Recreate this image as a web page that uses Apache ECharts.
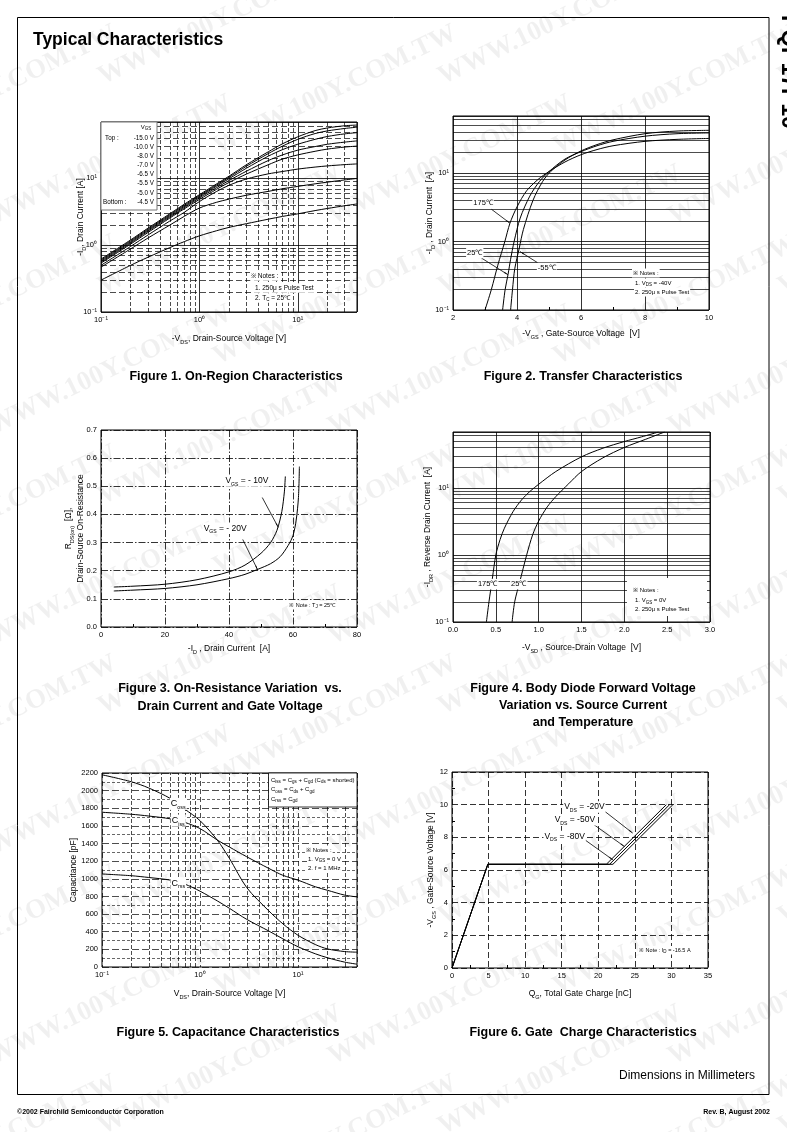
<!DOCTYPE html>
<html><head><meta charset="utf-8">
<script src="https://cdn.jsdelivr.net/npm/echarts@6/dist/echarts.min.js"></script>
<style>html,body{margin:0;padding:0;background:#fff}#c{width:787px;height:1132px}</style>
</head><body><div id="c"></div>
<script>
// ---------- tick labels ----------
const logTickLabels = ['10⁻¹', '10⁰', '10¹'];

// ---------- Figure 1 : On-Region Characteristics ----------
const fig1Vds = [0.1,0.2,0.3,0.5,0.7,1,1.5,2,3,5,7,10,15,20,30,40];
const fig1Legend = ['-15.0 V','-10.0 V','-8.0 V','-7.0 V','-6.5 V','-5.5 V','-5.0 V','-4.5 V'];
const fig1IdVgs150 = [0.62,1.2,1.8,2.95,4.1,5.7,8.3,10.8,16,25,33,42,52,57,61.5,63];
const fig1IdVgs100 = [0.6,1.16,1.74,2.85,3.95,5.5,8.0,10.4,15.2,23.5,30.5,38.5,47,51.5,56,58.5];
const fig1IdVgs80  = [0.58,1.12,1.68,2.75,3.8,5.3,7.7,9.9,14.2,21.5,27,32.5,38.5,42.5,46.5,48.5];
const fig1IdVgs70  = [0.56,1.08,1.62,2.65,3.65,5.1,7.3,9.3,12.8,18.5,22.5,26.5,30,32.5,35,36.5];
const fig1IdVgs65  = [0.54,1.04,1.55,2.55,3.5,4.85,6.9,8.7,11.6,16,19.5,22.5,25.5,27.5,29.5,30.5];
const fig1IdVgs55  = [0.5,0.96,1.42,2.3,3.1,4.5,6.4,7.9,9.8,11.7,12.7,13.8,14.8,15.4,16.1,16.5];
const fig1IdVgs50  = [0.47,0.88,1.28,2.0,2.7,3.6,4.4,4.9,5.6,6.4,7.0,7.6,8.3,8.8,9.5,10];
const fig1IdVgs45  = [0.3,0.5,0.66,0.92,1.13,1.38,1.65,1.85,2.1,2.45,2.7,2.95,3.3,3.55,3.9,4.15];

// ---------- Figure 2 : Transfer Characteristics ----------
const fig2T175 = [[3.0,0.1],[3.2,0.2],[3.4,0.45],[3.62,1.0],[3.78,1.85],[4.0,3.2],[4.3,5.5],[4.65,8],[5.0,10.5],[5.5,14.5],[6.0,18.5],[6.5,22],[7,25],[8,29],[9,31],[10,32]];
const fig2T25  = [[3.55,0.1],[3.63,0.2],[3.72,0.33],[3.8,0.55],[3.91,1.0],[4.1,2.2],[4.4,4.6],[4.7,7.5],[5.0,10.5],[5.5,16],[6,20.5],[6.5,25],[7,29],[8,34.5],[9,37.5],[10,38.5]];
const fig2Tm55 = [[3.8,0.1],[3.86,0.2],[3.93,0.4],[4.07,0.8],[4.2,1.5],[4.5,4.0],[4.8,7.5],[5.05,10.5],[5.5,15.5],[6,21],[6.5,26],[7,30.5],[8,37.5],[9,41],[10,42]];

// ---------- Figure 3 : On-Resistance ----------
const fig3Vgs10 = [[4,0.142],[10,0.145],[20,0.152],[30,0.168],[40,0.196],[45,0.22],[50,0.262],[53,0.3],[55,0.344],[56.5,0.41],[57.3,0.48],[57.6,0.535]];
const fig3Vgs20 = [[4,0.128],[10,0.131],[20,0.137],[30,0.15],[40,0.172],[45,0.187],[49,0.205],[53,0.225],[56,0.25],[58.5,0.29],[60,0.325],[61,0.38],[61.7,0.46],[62,0.57]];

// ---------- Figure 4 : Body Diode ----------
const fig4T175 = [[0.39,0.1],[0.42,0.2],[0.46,0.45],[0.5,1.0],[0.55,1.7],[0.6,2.5],[0.7,4.4],[0.8,6.6],[0.9,8.9],[1.0,11.3],[1.2,17.5],[1.5,29],[1.75,39],[2.0,49],[2.2,57.5],[2.4,68]];
const fig4T25  = [[0.69,0.1],[0.72,0.2],[0.78,0.4],[0.86,1.0],[0.93,2.0],[1.0,3.2],[1.1,5.2],[1.2,7.4],[1.35,11.5],[1.5,17.5],[1.75,28],[2.0,40],[2.25,53],[2.47,68]];

// ---------- Figure 5 : Capacitance ----------
const fig5Vds  = [0.1,0.2,0.3,0.5,0.7,1,1.5,2,3,5,7,10,15,20,30,40];
const fig5Ciss = [1755,1732,1712,1680,1640,1570,1440,1360,1250,1120,1040,985,910,870,815,795];
const fig5Coss = [2180,2100,2030,1910,1790,1660,1440,1230,900,640,490,360,255,205,175,168];
const fig5Crss = [1055,1035,1015,985,940,860,750,665,540,410,320,230,150,105,55,32];

// ---------- Figure 6 : Gate Charge ----------
const fig6Vds20 = [[0,0],[4.9,6.35],[21.1,6.35],[29.3,10]];
const fig6Vds50 = [[0,0],[4.9,6.35],[21.55,6.35],[29.75,10]];
const fig6Vds80 = [[0,0],[4.9,6.35],[22.0,6.35],[30.2,10]];

// ---------- grid-line tick positions ----------
const logMinorY = [0.2,0.3,0.4,0.5,0.6,0.7,0.8,0.9,2,3,4,5,6,7,8,9,20,30,40,50,60];
const logMinorX = [0.2,0.3,0.4,0.5,0.6,0.7,0.8,0.9,2,3,4,5,6,7,8,9,20,30];
const capOddLines = [100,300,500,700,900,1100,1300,1500,1700,1900,2100];

// =====================================================================
const FONT = '"Liberation Sans", Arial, Helvetica, sans-serif';
const BLK = '#000';
const subRich = (fs) => ({ s: { fontSize: fs, lineHeight: fs + 1, verticalAlign: 'bottom', fontFamily: FONT, color: BLK } });

function logFmt(v) {
  const e = Math.log10(v), r = Math.round(e);
  if (Math.abs(e - r) > 1e-6) return '';
  return logTickLabels[r + 1] || '';
}
const lbl = (extra) => Object.assign({ color: BLK, fontSize: 7.5, fontFamily: FONT, margin: 4 }, extra || {});
const nameStyle = { color: BLK, fontSize: 8.5, fontFamily: FONT, lineHeight: 12, rich: subRich(5.5) };

const grids = [
  { left: 101, top: 122, width: 256, height: 190 },
  { left: 453, top: 116, width: 256, height: 194 },
  { left: 101, top: 430, width: 256, height: 197 },
  { left: 453, top: 432, width: 257, height: 190 },
  { left: 102, top: 773, width: 255, height: 194 },
  { left: 452, top: 772, width: 256, height: 196 }
].map(g => Object.assign(g, { show: true, borderColor: BLK, borderWidth: 1, backgroundColor: 'transparent' }));

function ax(gi, o) {
  return Object.assign({
    gridIndex: gi, axisLine: { show: false }, axisTick: { show: false },
    nameLocation: 'middle', nameMoveOverlap: false, nameTextStyle: nameStyle
  }, o);
}
const solidSplit = (w) => ({ show: true, lineStyle: { color: BLK, width: w || 0.7, type: 'solid' } });
const dashSplit = (t, w) => ({ show: true, lineStyle: { color: BLK, width: w || 0.7, type: t } });

const xAxis = [
  ax(0, { type: 'log', logBase: 10, min: 0.1, max: 40, splitLine: solidSplit(0.8),
          axisLabel: lbl({ formatter: logFmt, showMaxLabel: false }),
          name: '-V{s|DS}, Drain-Source Voltage [V]', nameGap: 21 }),
  ax(1, { type: 'value', min: 2, max: 10, interval: 2, splitLine: solidSplit(0.8),
          axisTick: { show: false, inside: true }, minorTick: { show: true, splitNumber: 2, length: 3, lineStyle: { color: BLK } },
          axisLabel: lbl(), name: '-V{s|GS} , Gate-Source Voltage  [V]', nameGap: 18 }),
  ax(2, { type: 'value', min: 0, max: 80, interval: 20, splitLine: dashSplit([7, 2, 1.5, 2], 0.8),
          axisTick: { show: false, inside: true }, minorTick: { show: true, splitNumber: 2, length: 3, lineStyle: { color: BLK } },
          axisLabel: lbl(), name: '-I{s|D} , Drain Current  [A]', nameGap: 16 }),
  ax(3, { type: 'value', min: 0, max: 3, interval: 0.5, splitLine: solidSplit(0.8),
          axisLabel: lbl({ formatter: v => v.toFixed(1) }), name: '-V{s|SD} , Source-Drain Voltage  [V]', nameGap: 20 }),
  ax(4, { type: 'log', logBase: 10, min: 0.1, max: 40, splitLine: dashSplit([5, 3], 0.7),
          axisLabel: lbl({ formatter: logFmt, showMaxLabel: false }),
          name: 'V{s|DS}, Drain-Source Voltage [V]', nameGap: 21 }),
  ax(5, { type: 'value', min: 0, max: 35, interval: 5, splitLine: dashSplit([6, 3], 0.8),
          axisTick: { show: false, inside: true }, minorTick: { show: true, splitNumber: 2, length: 3, lineStyle: { color: BLK } },
          axisLabel: lbl(), name: 'Q{s|G}, Total Gate Charge [nC]', nameGap: 20 })
];
const yAxis = [
  ax(0, { type: 'log', logBase: 10, min: 0.1, max: 70, splitLine: solidSplit(0.8),
          axisLabel: lbl({ formatter: logFmt, showMaxLabel: false }),
          name: '-I{s|D}, Drain Current [A]', nameGap: 14 }),
  ax(1, { type: 'log', logBase: 10, min: 0.1, max: 68, splitLine: solidSplit(0.8),
          axisLabel: lbl({ formatter: logFmt, showMaxLabel: false }),
          name: '-I{s|D} , Drain Current  [A]', nameGap: 17 }),
  ax(2, { type: 'value', min: 0, max: 0.7, interval: 0.1, splitLine: dashSplit([7, 2, 1.5, 2], 0.8),
          axisLabel: lbl({ formatter: v => v.toFixed(1) }),
          name: 'R{s|DS(on)}  [Ω],\nDrain-Source On-Resistance', nameGap: 14 }),
  ax(3, { type: 'log', logBase: 10, min: 0.1, max: 68, splitLine: solidSplit(0.8),
          axisLabel: lbl({ formatter: logFmt, showMaxLabel: false }),
          name: '-I{s|DR} , Reverse Drain Current  [A]', nameGap: 19 }),
  ax(4, { type: 'value', min: 0, max: 2200, interval: 200, splitLine: dashSplit([7, 3], 0.7),
          axisLabel: lbl({ formatter: v => String(v) }), name: 'Capacitance [pF]', nameGap: 22 }),
  ax(5, { type: 'value', min: 0, max: 12, interval: 2, splitLine: dashSplit([6, 3], 0.8),
          axisTick: { show: false, inside: true }, minorTick: { show: true, splitNumber: 2, length: 3, lineStyle: { color: BLK } },
          axisLabel: lbl(), name: '-V{s|GS} , Gate-Source Voltage [V]', nameGap: 15 })
];

// ---------- series helpers ----------
function curve(gi, data, smooth) {
  return { type: 'line', xAxisIndex: gi, yAxisIndex: gi, data, symbol: 'none', showSymbol: false,
           smooth: smooth === undefined ? 0.3 : smooth, silent: true,
           lineStyle: { color: BLK, width: 1 }, z: 3 };
}
function gridLines(gi, anchor, items) {
  return { type: 'line', xAxisIndex: gi, yAxisIndex: gi, data: [anchor], symbol: 'none', silent: true,
           lineStyle: { opacity: 0 }, z: 1,
           markLine: { silent: true, symbol: ['none', 'none'], label: { show: false }, animation: false,
                       lineStyle: { color: BLK, width: 0.7 }, emphasis: { disabled: true }, data: items } };
}
const vLines = (vals, ls) => vals.map(v => ({ xAxis: v, lineStyle: ls }));
const hLines = (vals, ls) => vals.map(v => ({ yAxis: v, lineStyle: ls }));
function arrows(gi, anchor, pairs) {
  return { type: 'line', xAxisIndex: gi, yAxisIndex: gi, data: [anchor], symbol: 'none', silent: true,
           lineStyle: { opacity: 0 }, z: 4,
           markLine: { silent: true, symbol: ['none', 'arrow'], symbolSize: [1, 5], label: { show: false }, animation: false,
                       lineStyle: { color: BLK, width: 0.8, type: 'solid' }, emphasis: { disabled: true },
                       data: pairs.map(p => [{ coord: p[0] }, { coord: p[1] }]) } };
}
function labels(gi, anchor, items, fs, bg) {
  return { type: 'line', xAxisIndex: gi, yAxisIndex: gi, data: [anchor], symbol: 'none', silent: true,
           lineStyle: { opacity: 0 }, z: 5,
           markPoint: { silent: true, symbol: 'rect', symbolSize: 1, itemStyle: { color: 'rgba(0,0,0,0)' }, animation: false,
                        label: { show: true, position: 'inside', color: BLK, fontFamily: FONT, fontSize: fs,
                                 lineHeight: fs + 3, backgroundColor: bg === false ? 'transparent' : '#fff', padding: [0, 1],
                                 rich: subRich(Math.max(4.5, fs * 0.6)) },
                        data: items.map(it => ({ coord: it[0], value: 0, label: { formatter: it[1] } })) } };
}
const pair = (xs, ys) => xs.map((x, i) => [x, ys[i]]);

const dashMinor = { color: BLK, width: 0.7, type: [6, 3] };
const dashMinorV = { color: BLK, width: 0.7, type: [4, 2] };
const solidMinor = { color: BLK, width: 0.7, type: 'solid' };

const series = [
  // Fig 1
  gridLines(0, [0.1, 0.1], vLines(logMinorX, dashMinorV).concat(hLines(logMinorY, dashMinor))),
  curve(0, pair(fig1Vds, fig1IdVgs150)), curve(0, pair(fig1Vds, fig1IdVgs100)), curve(0, pair(fig1Vds, fig1IdVgs80)),
  curve(0, pair(fig1Vds, fig1IdVgs70)), curve(0, pair(fig1Vds, fig1IdVgs65)), curve(0, pair(fig1Vds, fig1IdVgs55)),
  curve(0, pair(fig1Vds, fig1IdVgs50)), curve(0, pair(fig1Vds, fig1IdVgs45)),
  // Fig 2
  gridLines(1, [2, 0.1], hLines(logMinorY, solidMinor)),
  curve(1, fig2T175), curve(1, fig2T25), curve(1, fig2Tm55),
  arrows(1, [2, 0.1], [[[3.2, 2.96], [3.78, 1.85]], [[2.89, 0.573], [3.72, 0.327]], [[4.66, 0.485], [4.09, 0.715]]]),
  labels(1, [2, 0.1], [[[2.94, 3.63], '175℃'], [[2.68, 0.68], '25℃'], [[4.93, 0.41], '-55℃']], 7.5),
  // Fig 3
  curve(2, fig3Vgs10), curve(2, fig3Vgs20),
  arrows(2, [0, 0], [[[50.4, 0.46], [55.4, 0.354]], [[44.3, 0.311], [49, 0.202]]]),
  labels(2, [0, 0], [[[45.6, 0.519], 'V{s|GS} = - 10V'], [[38.8, 0.351], 'V{s|GS} = - 20V']], 8.5),
  labels(2, [0, 0], [[[66, 0.077], '※ Note : T{s|J} = 25℃']], 5.5),
  // Fig 4
  gridLines(3, [0, 0.1], hLines(logMinorY, solidMinor)),
  curve(3, fig4T175), curve(3, fig4T25),
  labels(3, [0, 0.1], [[[0.405, 0.366], '175℃'], [[0.768, 0.366], '25℃']], 7.5),
  // Fig 5
  gridLines(4, [0.1, 0], vLines(logMinorX, dashMinorV).concat(hLines(capOddLines, { color: BLK, width: 0.6, type: [3, 2] }))),
  curve(4, pair(fig5Vds, fig5Ciss)), curve(4, pair(fig5Vds, fig5Coss)), curve(4, pair(fig5Vds, fig5Crss)),
  labels(4, [0.1, 0], [[[0.6, 1850], 'C{s|oss}'], [[0.6, 1660], 'C{s|iss}'], [[0.6, 950], 'C{s|rss}']], 9),
  // Fig 6
  curve(5, fig6Vds20, false), curve(5, fig6Vds50, false), curve(5, fig6Vds80, false),
  arrows(5, [0, 0], [[[20.6, 9.69], [24.7, 8.26]], [[19.3, 8.81], [23.6, 7.43]], [[18.0, 7.9], [22.0, 6.62]]]),
  labels(5, [0, 0], [[[18.1, 9.86], 'V{s|DS} = -20V'], [[16.8, 9.07], 'V{s|DS} = -50V'], [[15.4, 8.05], 'V{s|DS} = -80V']], 8.5),
  labels(5, [0, 0], [[[29.1, 1.09], '※ Note : I{s|D} = -16.5 A']], 5.5)
];

// ---------- graphic (page texts, boxes) ----------
function T(x, y, text, o) {
  o = o || {};
  const align = o.align || 'left', va = o.va || 'middle';
  return { type: 'text', x, y, rotation: o.rot || 0, z: o.z || 10, silent: true,
           style: { text, fill: o.color || BLK, fontSize: o.fs || 7, fontFamily: o.ff || FONT, fontWeight: o.fw || 'normal',
                    align, textAlign: align, verticalAlign: va, textVerticalAlign: va, lineHeight: o.lh || (o.fs || 7) + 3,
                    backgroundColor: o.bg, padding: o.bg ? [0, 1] : 0, rich: subRich(o.sub || 4.5) } };
}
const graphic = [];
// watermark
for (let r = 0; r < 17; r++) {
  for (let c = 0; c < 4; c++) {
    graphic.push({ type: 'text', x: -120 + c * 340 + (r % 3) * 115, y: 20 + r * 70, rotation: 0.45, z: -5, silent: true,
                   style: { text: 'WWW.100Y.COM.TW', fill: 'rgba(0,0,0,0.06)', fontSize: 27, fontWeight: 'bold',
                            fontFamily: '"Liberation Serif", "DejaVu Serif", serif', align: 'center', verticalAlign: 'middle' } });
  }
}
graphic.push({ type: 'rect', shape: { x: 17.5, y: 17.5, width: 751.5, height: 1077 }, z: 9, silent: true,
               style: { fill: 'none', stroke: BLK, lineWidth: 1 } });
graphic.push(T(788, 72, 'FQP17P10', { fs: 23, fw: 'bold', align: 'center', rot: -Math.PI / 2 }));
graphic.push(T(33, 40, 'Typical Characteristics', { fs: 17.5, fw: 'bold' }));
// captions
const cap = (x, y, t) => T(x, y, t, { fs: 12.5, fw: 'bold', align: 'center' });
graphic.push(cap(236, 377, 'Figure 1. On-Region Characteristics'));
graphic.push(cap(583, 377, 'Figure 2. Transfer Characteristics'));
graphic.push(cap(230, 689, 'Figure 3. On-Resistance Variation  vs.'));
graphic.push(cap(230, 707, 'Drain Current and Gate Voltage'));
graphic.push(cap(583, 689, 'Figure 4. Body Diode Forward Voltage'));
graphic.push(cap(583, 706, 'Variation vs. Source Current'));
graphic.push(cap(583, 723, 'and Temperature'));
graphic.push(cap(228, 1033, 'Figure 5. Capacitance Characteristics'));
graphic.push(cap(583, 1033, 'Figure 6. Gate  Charge Characteristics'));
graphic.push(T(755, 1076, 'Dimensions in Millimeters', { fs: 12, align: 'right' }));
graphic.push(T(17, 1112, '©2002 Fairchild Semiconductor Corporation', { fs: 7, fw: 'bold' }));
graphic.push(T(770, 1112, 'Rev. B, August 2002', { fs: 7, fw: 'bold', align: 'right' }));

// Fig 1 legend box
graphic.push({ type: 'rect', shape: { x: 101, y: 122, width: 56, height: 88 }, z: 8, silent: true,
               style: { fill: '#fff', stroke: '#777', lineWidth: 1 } });
graphic.push(T(146, 127, 'V{s|GS}', { fs: 6, align: 'center' }));
fig1Legend.forEach((t, i) => graphic.push(T(154, 138.5 + i * 9.05, t, { fs: 6.3, align: 'right' })));
graphic.push(T(105, 138.5, 'Top :', { fs: 6.3 }));
graphic.push(T(103, 138.5 + 7 * 9.05, 'Bottom :', { fs: 6.3 }));
// Fig 1 notes
graphic.push(T(250, 276, '※ Notes :', { fs: 6.5, bg: '#fff' }));
graphic.push(T(254, 288, '1. 250μ s Pulse Test', { fs: 6.5, bg: '#fff' }));
graphic.push(T(254, 298, '2. T{s|C} = 25℃', { fs: 6.5, bg: '#fff' }));
// Fig 2 notes
graphic.push(T(632, 273, '※ Notes :', { fs: 6, bg: '#fff' }));
graphic.push(T(634, 283, '1. V{s|DS} = -40V', { fs: 6, bg: '#fff' }));
graphic.push(T(634, 292, '2. 250μ s Pulse Test', { fs: 6, bg: '#fff' }));
// Fig 4 notes
graphic.push({ type: 'rect', shape: { x: 627, y: 578, width: 80, height: 38 }, z: 8, silent: true, style: { fill: '#fff' } });
graphic.push(T(633, 590, '※ Notes :', { fs: 6 }));
graphic.push(T(635, 600.5, '1. V{s|GS} = 0V', { fs: 6 }));
graphic.push(T(635, 609.5, '2. 250μ s Pulse Test', { fs: 6 }));
// Fig 5 box + notes
graphic.push({ type: 'rect', shape: { x: 268.5, y: 773, width: 88.5, height: 34 }, z: 8, silent: true,
               style: { fill: '#fff', stroke: BLK, lineWidth: 0.8 } });
graphic.push(T(271, 780, 'C{s|iss} = C{s|gs} + C{s|gd} (C{s|ds} = shorted)', { fs: 6 }));
graphic.push(T(271, 789.5, 'C{s|oss} = C{s|ds} + C{s|gd}', { fs: 6 }));
graphic.push(T(271, 799, 'C{s|rss} = C{s|gd}', { fs: 6 }));
graphic.push(T(305, 850, '※ Notes :', { fs: 6, bg: '#fff' }));
graphic.push(T(307, 859, '1. V{s|GS} = 0 V', { fs: 6, bg: '#fff' }));
graphic.push(T(307, 868, '2. f = 1 MHz', { fs: 6, bg: '#fff' }));

const chart = echarts.init(document.getElementById('c'));
chart.setOption({
  animation: false,
  backgroundColor: '#fff',
  textStyle: { fontFamily: FONT },
  grid: grids, xAxis, yAxis, series, graphic
});
</script></body></html>
